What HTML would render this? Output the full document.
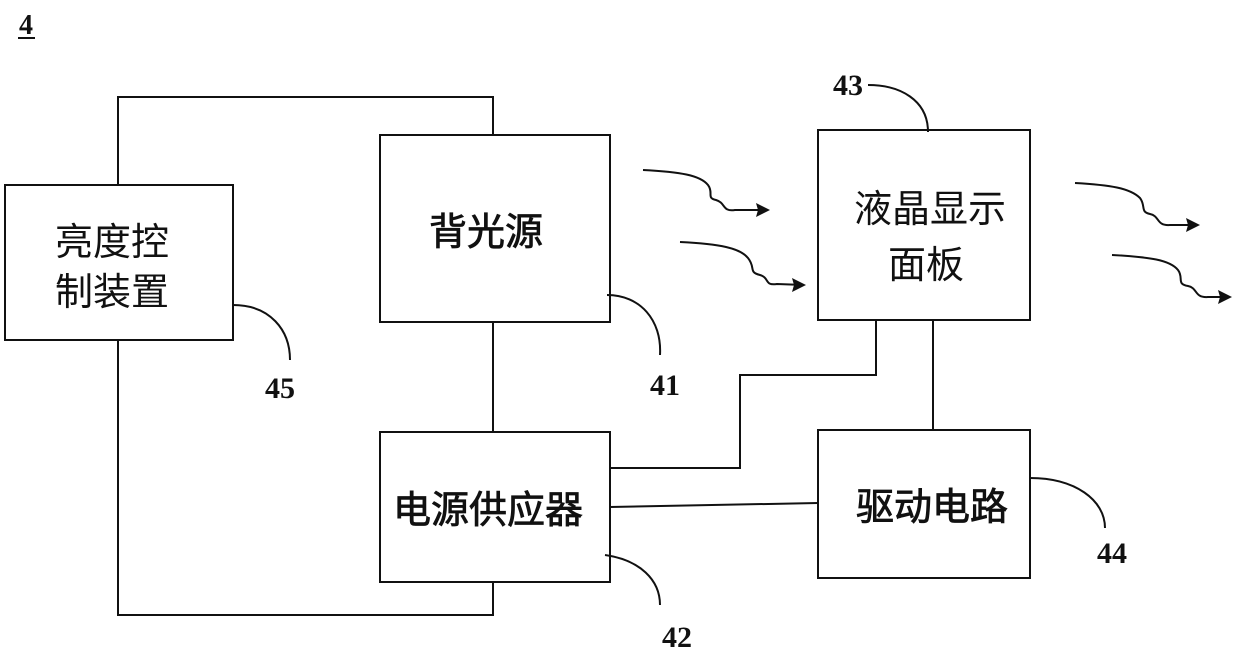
<!DOCTYPE html>
<html><head><meta charset="utf-8"><style>
html,body{margin:0;padding:0;background:#fff;}
svg{display:block;}
.cj{font-family:"Liberation Sans","Noto Sans CJK SC",sans-serif;font-size:38px;fill:#111;text-anchor:middle;}
.b{stroke:#111;stroke-width:0.8px;}
.n{font-family:"Liberation Serif",serif;font-size:30px;font-weight:bold;fill:#111;text-anchor:middle;}
</style></head><body>
<svg width="1240" height="659" viewBox="0 0 1240 659" xmlns="http://www.w3.org/2000/svg">
<g fill="none" stroke="#111" stroke-width="2">
<rect x="5" y="185" width="228" height="155"/>
<rect x="380" y="135" width="230" height="187"/>
<rect x="380" y="432" width="230" height="150"/>
<rect x="818" y="130" width="212" height="190"/>
<rect x="818" y="430" width="212" height="148"/>
<polyline points="118,185 118,97 493,97 493,135"/>
<polyline points="118,340 118,615 493,615 493,582"/>
<line x1="493" y1="322" x2="493" y2="432"/>
<polyline points="610,468 740,468 740,375 876,375 876,320"/>
<line x1="610" y1="507" x2="818" y2="503"/>
<line x1="933" y1="320" x2="933" y2="430"/>
<path d="M233,305 C270,305 290,330 290,360"/>
<path d="M607,295 C640,295 662,320 660,355"/>
<path d="M605,555 C640,560 660,580 660,605"/>
<path d="M868,85 C900,85 928,100 928,132"/>
<path d="M1030,478 C1075,478 1105,500 1105,528"/>
<path d="M643,170 C680,172 700,175 708,185 C714,193 706,198 716,200 C726,203 722,212 735,210 L768,210"/>
<path d="M680,242 C720,244 740,248 748,258 C756,268 748,272 760,275 C770,278 764,286 777,284 L804,285"/>
<path d="M1075,183 C1110,185 1130,188 1140,198 C1146,206 1140,212 1150,214 C1160,216 1156,226 1170,225 L1198,225"/>
<path d="M1112,255 C1150,257 1170,260 1178,270 C1184,278 1176,284 1188,286 C1198,288 1194,298 1208,297 L1230,297"/>
<line x1="18" y1="38" x2="35" y2="38"/>
</g>
<g fill="#111">
<polygon points="770,210 756,203 758,210 756,217"/>
<polygon points="806,285 792,278 794,285 792,292"/>
<polygon points="1200,225 1186,218 1188,225 1186,232"/>
<polygon points="1232,297 1218,290 1220,297 1218,304"/>
</g>
<text x="26" y="34" class="n" style="font-size:28px">4</text>
<text x="112" y="255" class="cj">亮度控</text>
<text x="112" y="305" class="cj">制装置</text>
<text x="486" y="245" class="cj b">背光源</text>
<text x="930" y="222" class="cj">液晶显示</text>
<text x="926" y="278" class="cj">面板</text>
<text x="488" y="523" class="cj b">电源供应器</text>
<text x="932" y="520" class="cj b">驱动电路</text>
<text x="280" y="398" class="n">45</text>
<text x="665" y="395" class="n">41</text>
<text x="677" y="647" class="n">42</text>
<text x="848" y="95" class="n">43</text>
<text x="1112" y="563" class="n">44</text>
</svg>
</body></html>
